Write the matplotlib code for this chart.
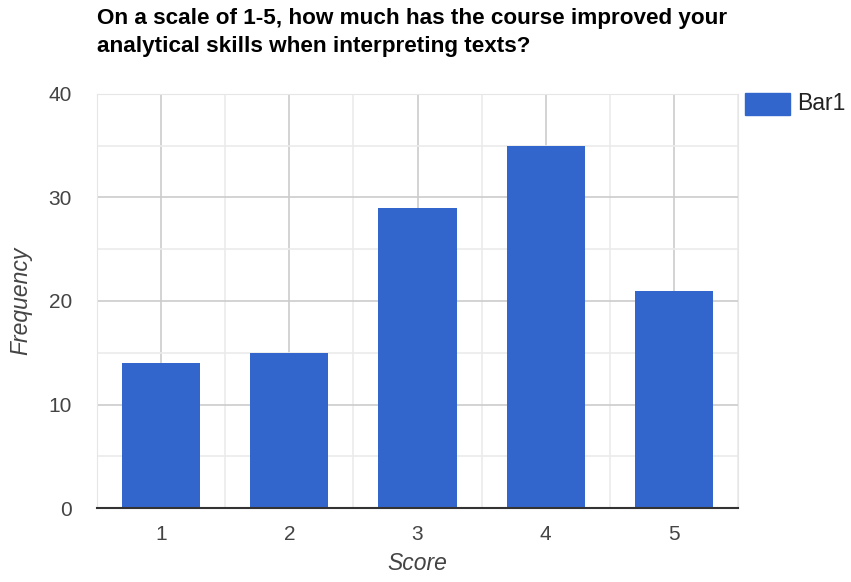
import matplotlib.pyplot as plt
from matplotlib.patches import Rectangle
from matplotlib.ticker import MultipleLocator

plt.rcParams['font.family'] = ['Liberation Sans', 'DejaVu Sans']

scores = ['1', '2', '3', '4', '5']
freq = [14, 15, 29, 35, 21]
y_ticks = [0, 10, 20, 30, 40]

blue = '#3366cc'
W, H = 851, 582

fig = plt.figure(figsize=(W / 100, H / 100), dpi=100)
ax = fig.add_axes([97 / W, 1 - 508 / H, (738 - 97) / W, (508 - 94) / H])

x = list(range(len(scores)))
ax.bar(x, freq, width=0.61, color=blue, zorder=3)

ax.set_xlim(-0.5, len(scores) - 0.5)
ax.set_ylim(0, 40)
ax.set_xticks(x)
ax.set_xticklabels(scores)
ax.set_yticks(y_ticks)
ax.xaxis.set_minor_locator(MultipleLocator(1, offset=0.5))
ax.yaxis.set_minor_locator(MultipleLocator(5))

ax.grid(which='major', color='#cccccc', lw=1.2, zorder=0)
ax.grid(which='minor', color='#ebebeb', lw=1.2, zorder=0)
ax.tick_params(which='both', length=0)
ax.tick_params(axis='x', pad=12, labelsize=15, labelcolor='#444444')
ax.tick_params(axis='y', pad=18, labelsize=15, labelcolor='#444444')

for side in ['top', 'right', 'left']:
    ax.spines[side].set_color('#e6e6e6')
ax.spines['bottom'].set_color('#333333')
ax.spines['bottom'].set_linewidth(1.5)
ax.spines['bottom'].set_zorder(4)

ax.set_xlabel('Score', fontsize=16.5, style='italic', color='#444444', labelpad=6)
ax.set_ylabel('Frequency', fontsize=16.5, style='italic', color='#444444', labelpad=12)

fig.text(97 / W, 1 - 8 / H,
         'On a scale of 1-5, how much has the course improved your\nanalytical skills when interpreting texts?',
         fontsize=16.2, fontweight='bold', va='top', ha='left', linespacing=1.45)

# legend
fig.patches.append(Rectangle((745 / W, 1 - 115 / H), 45 / W, 22 / H,
                             transform=fig.transFigure, color=blue))
fig.text(797 / W, 1 - 104 / H, 'Bar1', fontsize=16.5, color='#222222', va='center')

fig.savefig('out.png', dpi=100)
